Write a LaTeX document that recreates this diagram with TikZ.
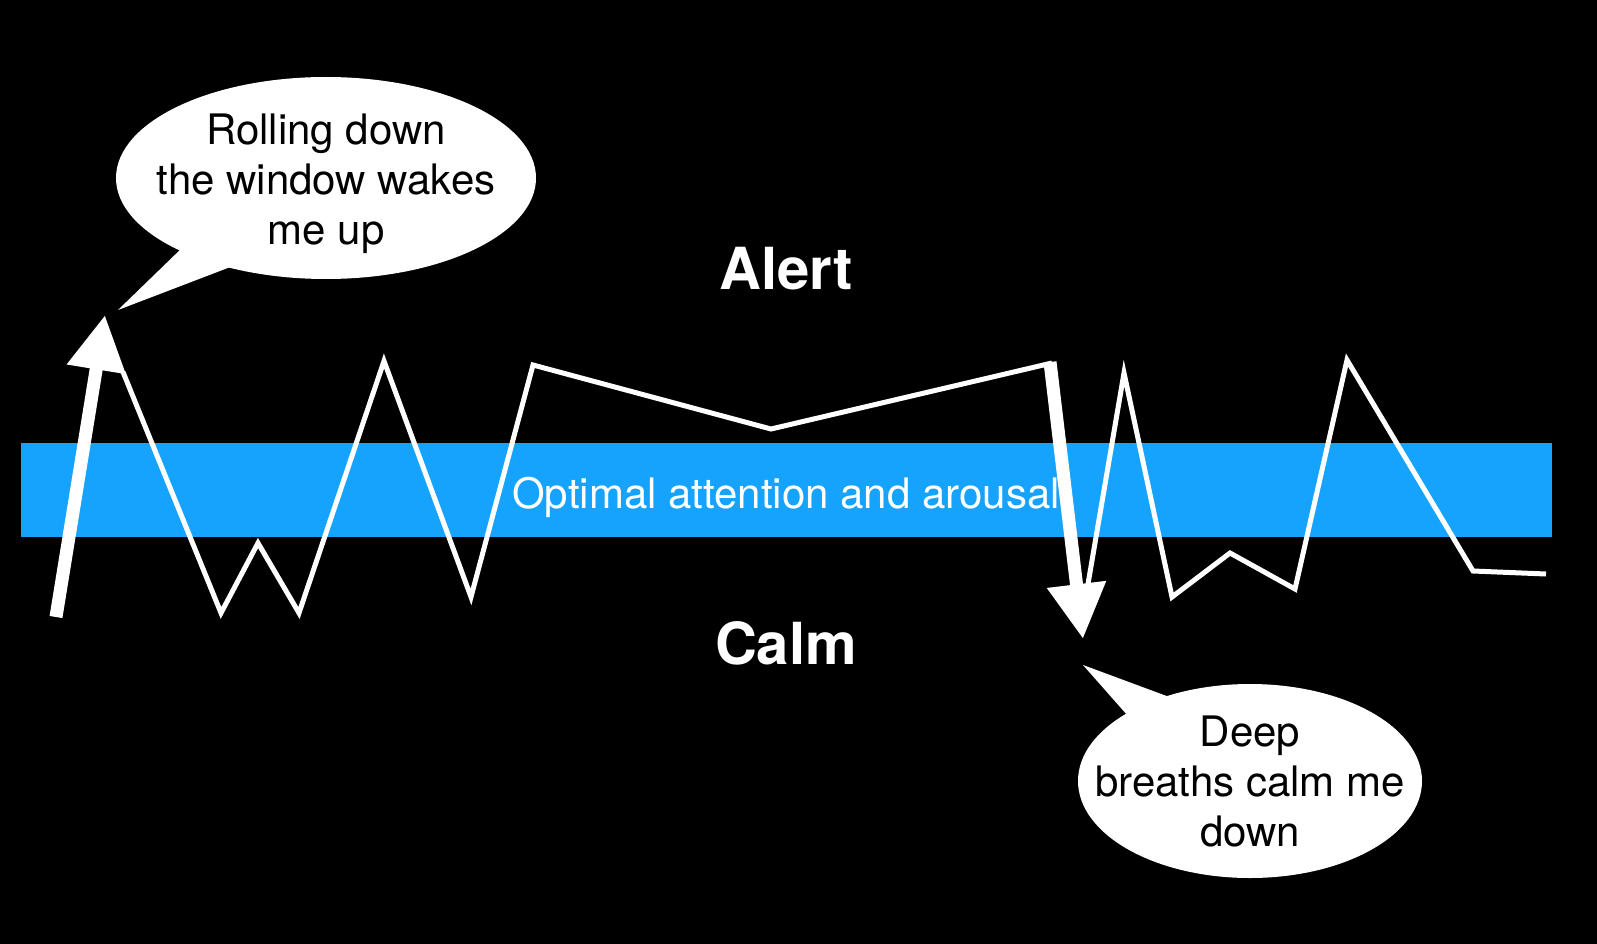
\documentclass[tikz,border=0pt]{standalone}
\usepackage{fontspec}
\setmainfont{TeX Gyre Heros}
\usetikzlibrary{shapes.geometric,arrows.meta}
\definecolor{bandblue}{RGB}{22,163,254}
\begin{document}
\begin{tikzpicture}[x=1pt,y=-1pt,
  zig/.style={draw=white,line width=5pt,line join=miter},
  bigarrow/.style={draw=white,line width=13pt,-{Triangle[length=55pt,width=56pt]}},
  bubble/.style={ellipse,fill=white,inner sep=0pt},
  bubbletext/.style={align=center,text=black,inner sep=0pt,font=\fontsize{42}{50}\selectfont},
  bubbletail/.style={fill=white},
  heading/.style={text=white,font=\fontsize{58}{60}\selectfont\bfseries,anchor=base}]
\fill[black] (0,0) rectangle (1597,944);
\useasboundingbox (0,0) rectangle (1597,944);
% band
\node[fill=bandblue, minimum width=1531pt, minimum height=94pt, inner sep=0pt, anchor=north west] (band) at (21,443) {};
\node[text=white, font=\fontsize{42}{50}\selectfont, anchor=base] (bandlabel) at (786,508) {Optimal attention and arousal};
% headings
\node[heading] (alert) at (786,289) {Alert};
\node[heading] (calm) at (786,664) {Calm};
% callouts
\fill[bubbletail] (183,247) -- (118,310) -- (233,266) -- cycle;
\node[bubble, minimum width=420pt, minimum height=202pt] (call1) at (326,178) {};
\node[bubbletext] (call1text) at (326,184) {Rolling down\\the window wakes\\me up};
\fill[bubbletail] (1128,716) -- (1083,665) -- (1172,698) -- cycle;
\node[bubble, minimum width=344pt, minimum height=194pt] (call2) at (1250,781) {};
\node[bubbletext] (call2text) at (1250,781) {Deep\\breaths calm me\\down};
% zigzag
\draw[zig] (123,372) -- (221,613) -- (258,543) -- (299,613) -- (384,361) -- (471,597) -- (533,365) -- (771,429) -- (1052,363);
\draw[zig] (1088,584) -- (1124,373) -- (1172,597) -- (1230,553) -- (1295,589) -- (1347,360) -- (1473,571) -- (1546,574);
% arrows
\coordinate (upstart) at (56,617);
\coordinate (uptip) at (105,315);
\coordinate (downstart) at (1050,362);
\coordinate (downtip) at (1083,639);
\draw[bigarrow] (upstart) -- (uptip);
\draw[bigarrow] (downstart) -- (downtip);
\end{tikzpicture}
\end{document}
